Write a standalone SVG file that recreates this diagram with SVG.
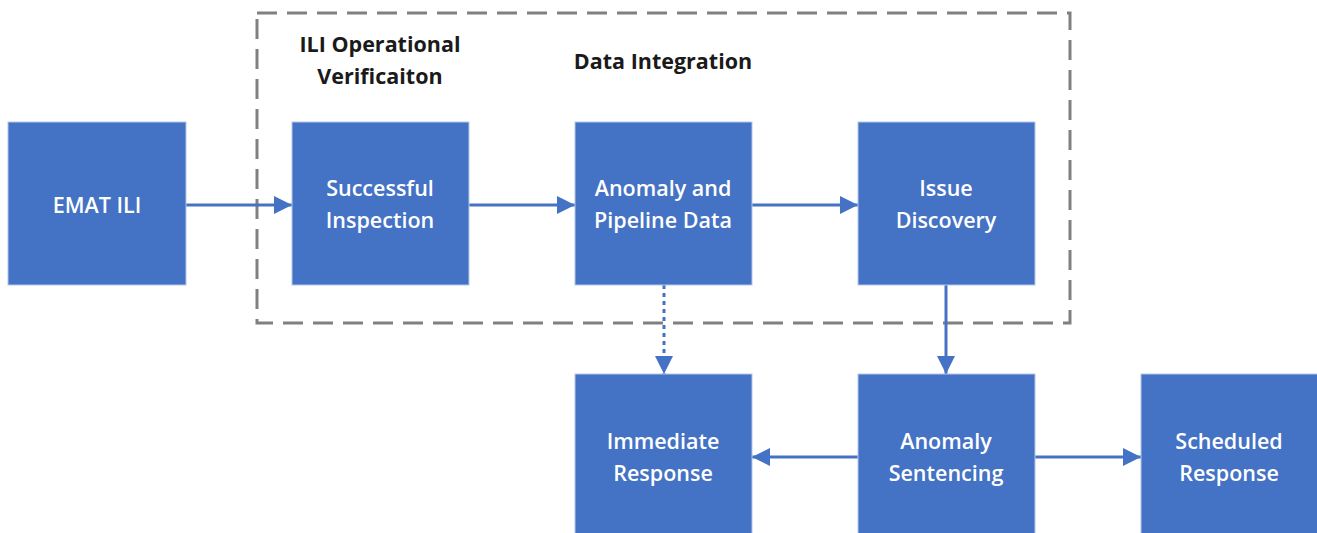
<svg xmlns="http://www.w3.org/2000/svg" width="1317" height="533" viewBox="0 0 1317 533">
<style>
.box{fill:#4472C4;stroke:#B4C7E7;stroke-width:1}
.bt{fill:#fff;font-family:"Open Sans","Liberation Sans",sans-serif;font-size:21.5px;font-weight:600;text-anchor:middle;dominant-baseline:central}
.lt{fill:#1a1a1a;font-family:"Open Sans","Liberation Sans",sans-serif;font-size:21.5px;font-weight:bold;text-anchor:middle;dominant-baseline:central}
.c{stroke:#4472C4;stroke-width:3;fill:none}
</style>
<defs>
<marker id="ah" viewBox="0 0 10 10" refX="10" refY="5" markerWidth="6" markerHeight="6" markerUnits="strokeWidth" orient="auto">
<path d="M0,0 L10,5 L0,10 z" fill="#4472C4"/>
</marker>
</defs>
<g id="group-frame">
<rect x="257" y="13" width="813" height="310" fill="none" stroke="#808080" stroke-width="3" stroke-dasharray="20,10"/>
<text class="lt" x="380" y="43">ILI Operational</text>
<text class="lt" x="380" y="75">Verificaiton</text>
<text class="lt" x="663" y="60">Data Integration</text>
</g>
<g id="connectors">
<line class="c" x1="186" y1="205" x2="292" y2="205" marker-end="url(#ah)"/>
<line class="c" x1="469" y1="205" x2="575" y2="205" marker-end="url(#ah)"/>
<line class="c" x1="752" y1="205" x2="858" y2="205" marker-end="url(#ah)"/>
<line class="c" x1="664" y1="285" x2="664" y2="374" stroke-dasharray="4,4" marker-end="url(#ah)"/>
<line class="c" x1="946" y1="285" x2="946" y2="374" marker-end="url(#ah)"/>
<line class="c" x1="858" y1="457" x2="752" y2="457" marker-end="url(#ah)"/>
<line class="c" x1="1035" y1="457" x2="1141" y2="457" marker-end="url(#ah)"/>
</g>
<g id="emat"><rect class="box" x="8" y="122" width="178" height="163"/><text class="bt" x="97" y="204">EMAT ILI</text></g>
<g id="successful"><rect class="box" x="292" y="122" width="177" height="163"/><text class="bt" x="380" y="187">Successful</text><text class="bt" x="380" y="219">Inspection</text></g>
<g id="anomaly-data"><rect class="box" x="575" y="122" width="177" height="163"/><text class="bt" x="663" y="187">Anomaly and</text><text class="bt" x="663" y="219">Pipeline Data</text></g>
<g id="issue"><rect class="box" x="858" y="122" width="177" height="163"/><text class="bt" x="946" y="187">Issue</text><text class="bt" x="946" y="219">Discovery</text></g>
<g id="immediate"><rect class="box" x="575" y="374" width="177" height="165"/><text class="bt" x="663" y="440">Immediate</text><text class="bt" x="663" y="472">Response</text></g>
<g id="sentencing"><rect class="box" x="858" y="374" width="177" height="165"/><text class="bt" x="946" y="440">Anomaly</text><text class="bt" x="946" y="472">Sentencing</text></g>
<g id="scheduled"><rect class="box" x="1141" y="374" width="180" height="165"/><text class="bt" x="1229" y="440">Scheduled</text><text class="bt" x="1229" y="472">Response</text></g>
</svg>
